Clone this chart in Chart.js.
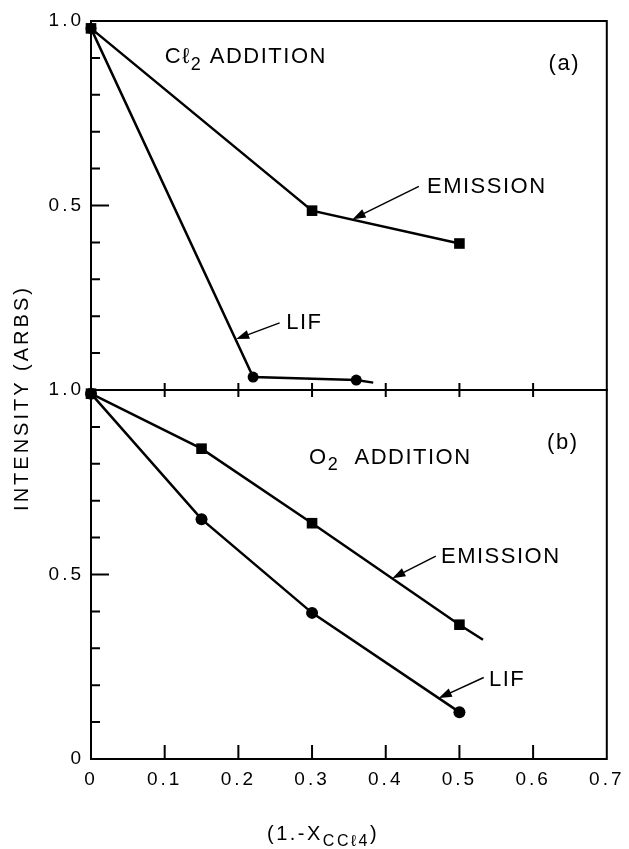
<!DOCTYPE html>
<html>
<head>
<meta charset="utf-8">
<style>
  html, body { margin: 0; padding: 0; background: #fff; }
  #wrap { width: 629px; height: 849px; }
</style>
</head>
<body>
<div id="wrap"><canvas id="chart" width="629" height="849"></canvas></div>
<script src="https://cdn.jsdelivr.net/npm/chart.js"></script>
<script>
// panel (a): Cl2 addition
var emAx = [0, 0.3, 0.5];
var emAy = [0.98, 0.486, 0.397];
var lifAx = [0, 0.22, 0.36];
var lifAy = [0.98, 0.035, 0.027];
var lifAtail = [0.383, 0.02];   // line carries on a bit past the last point

// panel (b): O2 addition
var emBx = [0, 0.15, 0.3, 0.5];
var emBy = [0.99, 0.841, 0.639, 0.364];
var emBtail = [0.532, 0.323];
var lifBx = [0, 0.15, 0.3, 0.5];
var lifBy = [0.99, 0.650, 0.396, 0.127];

var xTicks = [0, 0.1, 0.2, 0.3, 0.4, 0.5, 0.6, 0.7];
var yTicksA = [0.5, 1];
var yTicksB = [0, 0.5, 1];

var FONT = '"Liberation Sans", Arial, sans-serif';

function ds(xs, ys, tail, axis, shape, r) {
  var pts = xs.map(function (x, i) { return { x: x, y: ys[i] }; });
  if (tail) pts.push({ x: tail[0], y: tail[1] });
  return {
    data: pts, yAxisID: axis,
    borderColor: '#000', backgroundColor: '#000', borderWidth: 2.5,
    pointStyle: shape, pointBorderWidth: 0,
    pointRadius: function (c) { return c.dataIndex < xs.length ? r : 0; },
    tension: 0, fill: false, clip: false
  };
}

// text pieces: [string, isSubscript]
function rich(ctx, parts, x, y, size, spacing) {
  parts.forEach(function (p) {
    var sub = p[1];
    ctx.font = (sub ? Math.round(size * 0.8) : size) + 'px ' + FONT;
    ctx.letterSpacing = spacing + 'px';
    ctx.fillText(p[0], x, sub ? y + size * 0.3 : y);
    x += ctx.measureText(p[0]).width;
  });
}

function arrow(ctx, x1, y1, x2, y2) {
  var a = Math.atan2(y2 - y1, x2 - x1), h = 13, w = 4.5;
  ctx.beginPath();
  ctx.moveTo(x1, y1);
  ctx.lineTo(x2 - h * 0.6 * Math.cos(a), y2 - h * 0.6 * Math.sin(a));
  ctx.stroke();
  ctx.beginPath();
  ctx.moveTo(x2, y2);
  ctx.lineTo(x2 - h * Math.cos(a) + w * Math.sin(a), y2 - h * Math.sin(a) - w * Math.cos(a));
  ctx.lineTo(x2 - h * Math.cos(a) - w * Math.sin(a), y2 - h * Math.sin(a) + w * Math.cos(a));
  ctx.closePath();
  ctx.fill();
}

// labels placed in data units of each panel
var notes = [
  { axis: 'ya', x: 0.100, y: 0.886, parts: [['Cℓ', 0], ['2', 1], [' ADDITION', 0]] },
  { axis: 'ya', x: 0.621, y: 0.867, parts: [['(a)', 0]] },
  { axis: 'ya', x: 0.456, y: 0.533, parts: [['EMISSION', 0]], from: [0.445, 0.552], to: [0.355, 0.463] },
  { axis: 'ya', x: 0.265, y: 0.166, parts: [['LIF', 0]], from: [0.256, 0.182], to: [0.197, 0.138] },
  { axis: 'yb', x: 0.296, y: 0.800, parts: [['O', 0], ['2', 1], ['  ADDITION', 0]] },
  { axis: 'yb', x: 0.619, y: 0.841, parts: [['(b)', 0]] },
  { axis: 'yb', x: 0.475, y: 0.531, parts: [['EMISSION', 0]], from: [0.468, 0.550], to: [0.409, 0.490] },
  { axis: 'yb', x: 0.540, y: 0.199, parts: [['LIF', 0]], from: [0.533, 0.221], to: [0.472, 0.165] }
];

var frame = {
  id: 'frame',
  beforeDraw: function (c) { c.ctx.letterSpacing = '3px'; },
  beforeDatasetsDraw: function (c) {
    var ctx = c.ctx, x = c.scales.x;
    var L = x.getPixelForValue(0), R = x.getPixelForValue(0.7);
    ctx.save();
    ctx.strokeStyle = '#000';
    ctx.lineWidth = 2;
    ['ya', 'yb'].forEach(function (id, k) {
      var s = c.scales[id];
      var T = s.getPixelForValue(1), B = s.getPixelForValue(0);
      ctx.strokeRect(L, T, R - L, B - T);
      ctx.beginPath();
      for (var v = 1; v < 10; v++) {
        var py = s.getPixelForValue(v / 10);
        ctx.moveTo(L, py);
        ctx.lineTo(L + (v === 5 ? 18 : 9), py);
      }
      xTicks.slice(1, -1).forEach(function (v) {
        var px = x.getPixelForValue(v);
        if (k === 1) { ctx.moveTo(px, B); ctx.lineTo(px, B - 14); }
        else { ctx.moveTo(px, B - 7); ctx.lineTo(px, B + 7); }
      });
      ctx.stroke();
    });
    ctx.restore();
  },
  afterDatasetsDraw: function (c) {
    var ctx = c.ctx, x = c.scales.x;
    ctx.save();
    ctx.fillStyle = '#000';
    ctx.strokeStyle = '#000';
    ctx.lineWidth = 1.5;
    ctx.textBaseline = 'alphabetic';
    ctx.textAlign = 'left';
    notes.forEach(function (n) {
      var s = c.scales[n.axis];
      rich(ctx, n.parts, x.getPixelForValue(n.x), s.getPixelForValue(n.y), 22, 1.5);
      if (n.from) {
        arrow(ctx, x.getPixelForValue(n.from[0]), s.getPixelForValue(n.from[1]),
          x.getPixelForValue(n.to[0]), s.getPixelForValue(n.to[1]));
      }
    });

    // x title
    rich(ctx, [['(1.-X', 0], ['CCℓ', 1], ['4', 1], [')', 0]], 267, 840, 20, 2.5);

    // y title spanning both panels
    ctx.save();
    ctx.translate(28, 398);
    ctx.rotate(-Math.PI / 2);
    ctx.textAlign = 'center';
    ctx.font = '20px ' + FONT;
    ctx.letterSpacing = '3px';
    ctx.fillText('INTENSITY (ARBS)', 0, 0);
    ctx.restore();
    ctx.restore();
  }
};

function yAxis(ticks) {
  return {
    type: 'linear', min: 0, max: 1, position: 'left', stack: 'v', stackWeight: 1,
    grid: { display: false, drawTicks: false }, border: { display: false },
    afterBuildTicks: function (s) { s.ticks = ticks.map(function (v) { return { value: v }; }); },
    afterFit: function (s) { s.width = 91; },
    ticks: {
      color: '#000', padding: 7, autoSkip: false,
      font: { family: FONT, size: 19 },
      callback: function (v) { return v === 0 ? '0' : v.toFixed(1); }
    }
  };
}

var chart = new Chart(document.getElementById('chart'), {
  type: 'line',
  data: {
    datasets: [
      ds(emAx, emAy, null, 'ya', 'rect', 7.5),
      ds(lifAx, lifAy, lifAtail, 'ya', 'circle', 5.5),
      ds(lifBx, lifBy, null, 'yb', 'circle', 6),
      ds(emBx, emBy, emBtail, 'yb', 'rect', 7.5)
    ]
  },
  options: {
    responsive: false,
    animation: false,
    events: [],
    layout: { padding: { top: 21, right: 21, left: 0, bottom: 0 } },
    plugins: { legend: { display: false }, tooltip: { enabled: false } },
    scales: {
      x: {
        type: 'linear', min: 0, max: 0.7, position: 'bottom',
        grid: { display: false, drawTicks: false }, border: { display: false },
        afterBuildTicks: function (s) { s.ticks = xTicks.map(function (v) { return { value: v }; }); },
        afterFit: function (s) { s.height = 90; },
        ticks: {
          color: '#000', padding: 9, maxRotation: 0, autoSkip: false,
          font: { family: FONT, size: 19 },
          callback: function (v) { return v === 0 ? '0' : v.toFixed(1); }
        }
      },
      // stacked axes are laid out bottom-up in the order given
      yb: yAxis(yTicksB),
      ya: yAxis(yTicksA)
    }
  },
  plugins: [frame]
});
</script>
</body>
</html>
